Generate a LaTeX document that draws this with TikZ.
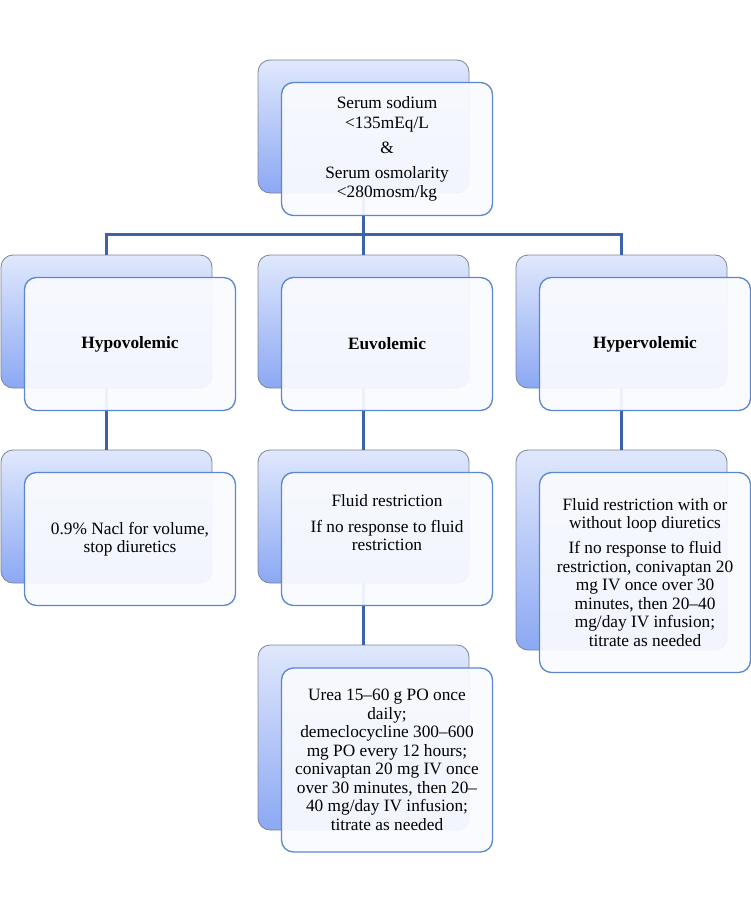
\documentclass[tikz,border=0pt]{standalone}
\usepackage{fontspec}
\setmainfont{Liberation Serif}
\usepackage{xcolor}
\usetikzlibrary{positioning}

\definecolor{backtop}{HTML}{E0E8FC}
\definecolor{backbot}{HTML}{8BA8F3}
\definecolor{backline}{HTML}{7C8496}
\definecolor{frontline}{HTML}{5A86D4}
\definecolor{frontfill}{HTML}{FAFBFF}
\definecolor{linkblue}{HTML}{3D62AC}

\tikzset{
  backbox/.style={draw=backline, line width=0.8pt, rounded corners=12pt,
    top color=backtop, bottom color=backbot,
    minimum width=211pt, minimum height=133pt, inner sep=0pt},
  frontbox/.style={draw=frontline, line width=1.3pt, rounded corners=12pt,
    fill=frontfill, fill opacity=0.93, text opacity=1,
    minimum width=211pt, minimum height=133pt, inner sep=2pt,
    align=center, xshift=23.5pt, yshift=-22.5pt,
    font=\fontsize{17.3}{18.5}\selectfont},
  boxtext/.style={align=center, inner sep=0pt, font=\fontsize{17.3}{18.5}\selectfont},
  link/.style={draw=linkblue, line width=2.6pt}
}

\begin{document}
\begin{tikzpicture}[x=1pt, y=-1pt]
\useasboundingbox (0,0) rectangle (750,912);

% back boxes
\node[backbox] (topB) at (363.5,126.5) {};
\node[backbox] (hypoB) at (106.5,321.5) {};
\node[backbox] (euvoB) at (363.5,321.5) {};
\node[backbox] (hyperB) at (621.5,321.5) {};
\node[backbox] (hypotxB) at (106.5,516.5) {};
\node[backbox] (euvotxB) at (363.5,516.5) {};
\node[backbox, minimum height=200pt] (hypertxB) at (621.5,550) {};
\node[backbox, minimum height=185pt] (ureaB) at (363.5,737.5) {};

% connectors
\draw[link] (topB.south) -- (euvoB.north);
\draw[link] (hypoB.north) -- ++(0,-20) -| (hyperB.north);
\draw[link] (hypoB.south) -- (hypotxB.north);
\draw[link] (euvoB.south) -- (euvotxB.north);
\draw[link] (euvotxB.south) -- (ureaB.north);
\draw[link] (hyperB.south) -- (hypertxB.north);

% front boxes
\node[frontbox, font=\fontsize{17.3}{19.5}\selectfont] (topF) at (topB.center)
  {Serum sodium\\ <135mEq/L\\[5.5pt] \&\\[5.5pt] Serum osmolarity\\ <280mosm/kg};
\node[frontbox] (hypoF) at (hypoB.center) {\textbf{Hypovolemic}};
\node[frontbox] (euvoF) at (euvoB.center) {\textbf{Euvolemic}};
\node[frontbox] (hyperF) at (hyperB.center) {\textbf{Hypervolemic}};
\node[frontbox] (hypotxF) at (hypotxB.center) {0.9\% Nacl for volume,\\ stop diuretics};
\node[frontbox] (euvotxF) at (euvotxB.center) {};
\node[boxtext] (euvotxT) at (387,523)
  {Fluid restriction\\[7pt] If no response to fluid\\ restriction};
\node[frontbox, minimum height=200pt] (hypertxF) at (hypertxB.center)
  {Fluid restriction with or\\ without loop diuretics\\[6.5pt]
   If no response to fluid\\ restriction, conivaptan 20\\ mg IV once over 30\\
   minutes, then 20–40\\ mg/day IV infusion;\\ titrate as needed};
\node[frontbox, minimum height=184pt] (ureaF) at (ureaB.center)
  {Urea 15–60 g PO once\\ daily;\\ demeclocycline 300–600\\ mg PO every 12 hours;\\
   conivaptan 20 mg IV once\\ over 30 minutes, then 20–\\ 40 mg/day IV infusion;\\
   titrate as needed};
\end{tikzpicture}
\end{document}
